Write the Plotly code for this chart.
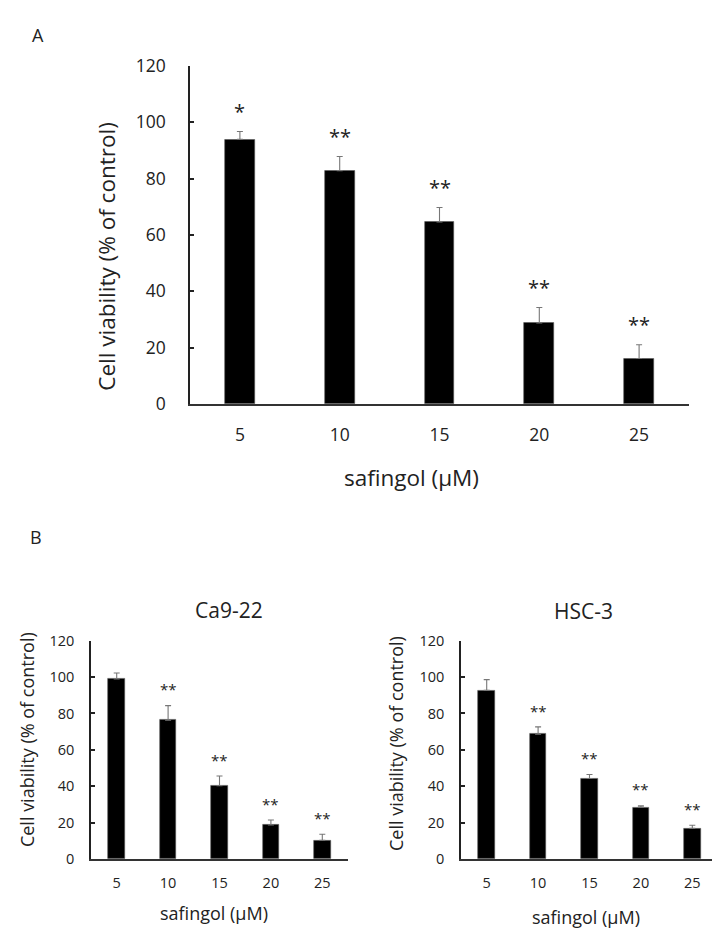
import plotly.graph_objects as go

W, H = 720, 936

# ---------------- data ----------------
doses = ["5", "10", "15", "20", "25"]
yticks = [0, 20, 40, 60, 80, 100, 120]

a_values = [93.9, 82.8, 64.6, 28.7, 16.1]
a_errors = [2.8, 5.0, 5.1, 5.5, 4.9]
a_stars = ["*", "**", "**", "**", "**"]

ca922_values = [99.0, 76.3, 40.3, 18.7, 10.3]
ca922_errors = [3.2, 8.0, 5.3, 2.7, 3.3]
ca922_stars = ["", "**", "**", "**", "**"]

hsc3_values = [92.7, 68.6, 44.2, 28.4, 16.8]
hsc3_errors = [5.9, 4.0, 2.2, 0.8, 1.7]
hsc3_stars = ["", "**", "**", "**", "**"]

title_ca922 = "Ca9-22"
title_hsc3 = "HSC-3"
ytitle = "Cell viability (% of control)"
xtitle = "safingol (μM)"

TXT = "Open Sans"
NUM = "Open Sans"


def px(x):
    return x / W


def py(y):
    return 1 - y / H


fig = go.Figure()

panels = [
    dict(sfx="", vals=a_values, errs=a_errors, stars=a_stars,
         xd=(182, 681), yd=(393, 46), bw=0.30, tick=17.5, star=20,
         star_off=7.2, ax_w=1.5, xline=2.2, tso=19, xtso=14),
    dict(sfx="2", vals=ca922_values, errs=ca922_errors, stars=ca922_stars,
         xd=(83, 340), yd=(860, 636), bw=0.32, tick=14.5, star=15,
         star_off=9.0, ax_w=1.5, xline=1.6, tso=12, xtso=10),
    dict(sfx="3", vals=hsc3_values, errs=hsc3_errors, stars=hsc3_stars,
         xd=(453, 710), yd=(860, 636), bw=0.32, tick=14.5, star=15,
         star_off=9.0, ax_w=1.5, xline=1.6, tso=12, xtso=10),
]

annotations = []
for p in panels:
    sfx = p["sfx"]
    fig.add_trace(go.Bar(
        x=doses, y=p["vals"], width=p["bw"],
        marker=dict(color="#000000", line=dict(color="#555555", width=0.6)),
        error_y=dict(type="data", array=p["errs"], arrayminus=[0] * len(doses),
                     symmetric=False, color="#777777", thickness=1.1, width=3),
        xaxis="x" + sfx, yaxis="y" + sfx, showlegend=False,
    ))
    xa = dict(domain=[px(p["xd"][0]), px(p["xd"][1])], anchor="y" + sfx,
              type="category", range=[-0.5, 4.5], showline=True,
              linecolor="#333333", linewidth=p["xline"], ticks="",
              showgrid=False, zeroline=False, ticklabelstandoff=p["xtso"],
              tickfont=dict(family=NUM, size=p["tick"], color="#222222"))
    ya = dict(domain=[py(p["yd"][0]), py(p["yd"][1])], anchor="x" + sfx,
              range=[0, 120], tickvals=yticks, showline=True,
              linecolor="#222222", linewidth=p["ax_w"], ticks="inside",
              ticklen=4, tickwidth=p["ax_w"], tickcolor="#222222",
              showgrid=False, zeroline=False, ticklabelstandoff=p["tso"],
              tickfont=dict(family=NUM, size=p["tick"], color="#222222"))
    fig.update_layout(**{"xaxis" + sfx: xa, "yaxis" + sfx: ya})
    for i, (v, e, s) in enumerate(zip(p["vals"], p["errs"], p["stars"])):
        if s:
            annotations.append(dict(
                x=i, y=v + e + p["star_off"], xref="x" + sfx, yref="y" + sfx,
                text=s, showarrow=False, yanchor="middle",
                font=dict(family=TXT, size=p["star"], color="#222222")))


def label(text, x, y, size, angle=0):
    annotations.append(dict(
        x=px(x), y=py(y), xref="paper", yref="paper", text=text,
        showarrow=False, textangle=angle, xanchor="center", yanchor="middle",
        font=dict(family=TXT, size=size, color="#222222")))


label("A", 30, 14, 18)
label("B", 28, 530, 18)
label(ytitle, 99, 242, 22.5, -90)
label(xtitle, 403, 468, 22.5)
label(title_ca922, 221, 604, 21)
label(title_hsc3, 575, 606, 21)
label(ytitle, 19, 738, 18, -90)
label(xtitle, 206, 915, 18)
label(ytitle, 388, 742, 18, -90)
label(xtitle, 578, 920, 18)

fig.update_layout(
    width=W, height=H, margin=dict(l=0, r=0, t=0, b=0),
    paper_bgcolor="white", plot_bgcolor="white",
    annotations=annotations, bargap=0,
)

fig.write_html("out.html")
